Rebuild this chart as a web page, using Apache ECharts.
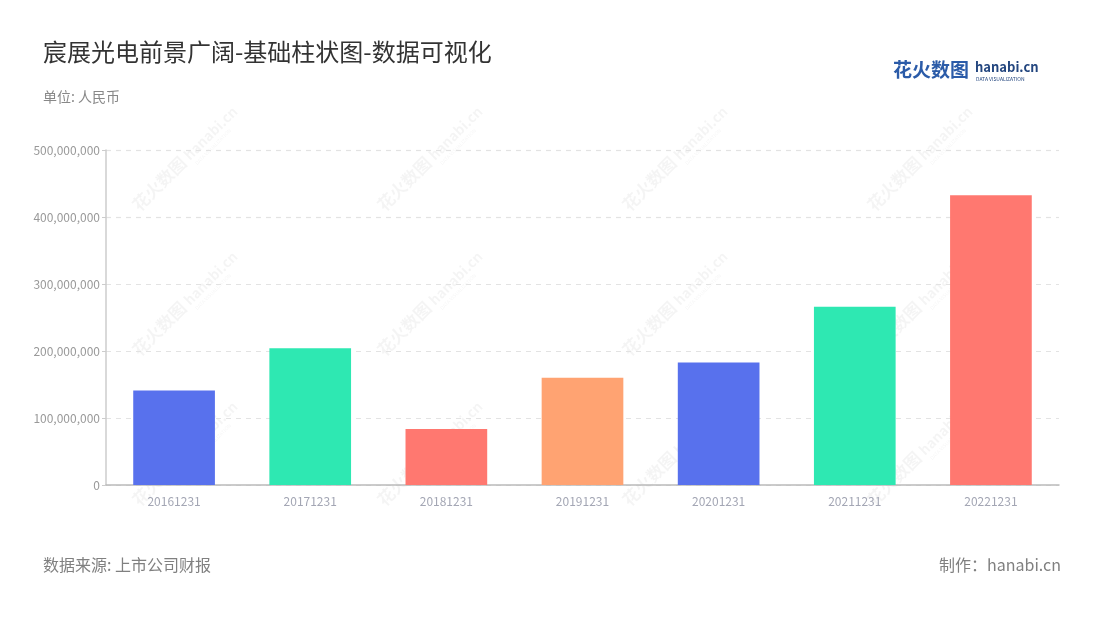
<!DOCTYPE html>
<html><head><meta charset="utf-8">
<script src="https://cdn.jsdelivr.net/npm/echarts@6/dist/echarts.min.js"></script>
<style>html,body{margin:0;padding:0;background:#fff}#c{width:1100px;height:620px}</style>
</head><body><div id="c"></div>
<script>
const categories = ['20161231','20171231','20181231','20191231','20201231','20211231','20221231'];
const values = [141000000, 204000000, 83500000, 160000000, 183000000, 266000000, 432500000];
const barColors = ['#5871ED','#2EE8B2','#FF7870','#FFA372','#5871ED','#2EE8B2','#FF7870'];
const yTicks = [0, 100000000, 200000000, 300000000, 400000000, 500000000];

const FONT = '"Noto Sans CJK SC","Noto Sans",sans-serif';
const chart = echarts.init(document.getElementById('c'));

const wmX = [180, 425, 670, 915];
const wmY = [165, 310, 460];
const watermarks = [];
wmY.forEach(y => wmX.forEach(x => {
  watermarks.push({
    type: 'group', x: x, y: y, rotation: Math.PI / 4, silent: true, z: 0,
    children: [
      {type: 'text', x: -62, y: -10, style: {text: '花火数图', font: 'bold 17px ' + FONT, fill: 'rgba(0,0,0,0.045)'}},
      {type: 'text', x: 10, y: -8, style: {text: 'hanabi.cn', font: 'bold 14px ' + FONT, fill: 'rgba(0,0,0,0.045)'}},
      {type: 'text', x: 12, y: 8, style: {text: 'DATA VISUALIZATION', font: '5px ' + FONT, fill: 'rgba(0,0,0,0.045)'}}
    ]
  });
}));

chart.setOption({
  backgroundColor: '#fff',
  textStyle: {fontFamily: FONT},
  title: [
    {text: '宸展光电前景广阔-基础柱状图-数据可视化', left: 38, top: 35,
     textStyle: {fontSize: 24, fontWeight: 'normal', color: '#333', fontFamily: FONT}},
    {text: '单位: 人民币', left: 38, top: 85,
     textStyle: {fontSize: 14, fontWeight: 'normal', color: '#888', fontFamily: FONT}}
  ],
  grid: {left: 106, right: 41, top: 150, bottom: 135},
  xAxis: {
    type: 'category', data: categories,
    axisLine: {lineStyle: {color: '#bbb', width: 1.5}},
    axisTick: {alignWithLabel: true, lineStyle: {color: '#bbb'}},
    axisLabel: {color: '#a3a6b4', fontSize: 12, margin: 10, fontFamily: FONT}
  },
  yAxis: {
    type: 'value', min: 0, max: 500000000, interval: 100000000,
    axisLine: {show: true, lineStyle: {color: '#ccc', width: 1.5}},
    axisTick: {show: true, length: 4, lineStyle: {color: '#ccc'}},
    axisLabel: {color: '#999', fontSize: 12, margin: 6, fontFamily: FONT,
      formatter: v => yTicks.includes(v) ? v.toLocaleString('en-US') : ''},
    splitLine: {lineStyle: {color: '#e3e3e3', type: [5, 5], width: 1.2}}
  },
  series: [{
    type: 'bar', barWidth: '60%',
    data: values.map((v, i) => ({value: v, itemStyle: {color: barColors[i]}})),
    itemStyle: {borderWidth: 0}
  }],
  graphic: watermarks.concat([
    {type: 'text', left: 893, top: 60, z: 10, style: {text: '花火数图', font: 'bold 19px ' + FONT, fill: '#2B5BA8'}},
    {type: 'text', left: 975, top: 61, z: 10, style: {text: 'hanabi.cn', font: 'bold 13px ' + FONT, fill: '#23467f'}},
    {type: 'text', left: 976, top: 77, z: 10, style: {text: 'DATA VISUALIZATION', font: '5px ' + FONT, fill: '#23467f'}},
    {type: 'text', left: 43, top: 557, z: 10, style: {text: '数据来源: 上市公司财报', font: '16px ' + FONT, fill: '#808080'}},
    {type: 'text', right: 39, top: 557, z: 10, style: {text: '制作：hanabi.cn', font: '16px ' + FONT, fill: '#808080'}}
  ])
});
</script></body></html>
